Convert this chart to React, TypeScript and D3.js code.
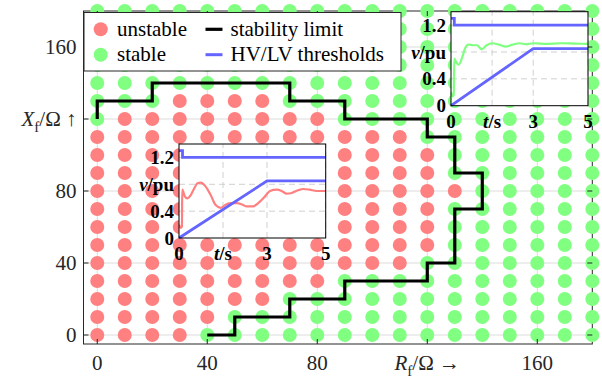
import React from 'react';
import * as d3 from 'd3';

// grid of operating points (fault resistance R_f, fault reactance X_f)
const rValues = [0, 10, 20, 30, 40, 50, 60, 70, 80, 90, 100, 110, 120, 130, 140, 150, 160, 170, 180];
const xValues = [0, 10, 20, 30, 40, 50, 60, 70, 80, 90, 100, 110, 120, 130, 140, 150, 160, 170, 180];
// unstable X_f range for each R_f column (null = all stable)
const unstableLow = [0, 0, 0, 0, 10, 20, 20, 30, 30, 40, 40, 40, 50, 80, null, null, null, null, null];
const unstableHigh = [110, 120, 120, 130, 130, 130, 130, 120, 120, 110, 110, 110, 100, 80, null, null, null, null, null];

// stability limit polyline
const limitR = [0, 0, 20, 20, 70, 70, 90, 90, 120, 120, 130, 130, 140, 140, 130, 130, 120, 120, 90, 90, 70, 70, 50, 50, 40];
const limitX = [120, 130, 130, 140, 140, 130, 130, 120, 120, 110, 110, 90, 90, 70, 70, 40, 40, 30, 30, 20, 20, 10, 10, 0, 0];

const mainTicks = [0, 40, 80, 120, 160];
const mainTickLabels = ['0', '40', '80', '', '160'];

// inset data
const hvT = [0, 0.12, 0.12, 5];
const hvV = [1.3, 1.3, 1.2, 1.2];
const lvT = [0, 3, 5];
const lvV = [0, 0.85, 0.85];
const unstableT = [0, 0.06, 0.1, 0.11, 0.2, 0.28, 0.4, 0.52, 0.63, 0.74, 0.91, 1.08, 1.25, 1.42, 1.6, 1.8, 1.97, 2.15, 2.31, 2.53, 2.7, 2.93, 3.1, 3.33, 3.5, 3.67, 3.84, 4.05, 4.24, 4.45, 4.69, 5];
const unstableV = [0.2, 0.15, 0.17, 0.72, 0.62, 0.59, 0.64, 0.74, 0.815, 0.825, 0.765, 0.64, 0.49, 0.45, 0.5, 0.52, 0.52, 0.5, 0.47, 0.47, 0.52, 0.62, 0.7, 0.72, 0.7, 0.66, 0.67, 0.71, 0.73, 0.72, 0.7, 0.7];
const stableT = [0, 0.06, 0.1, 0.12, 0.2, 0.28, 0.4, 0.52, 0.64, 0.8, 0.95, 1.12, 1.3, 1.5, 1.75, 2.0, 2.25, 2.5, 2.75, 3.0, 3.5, 4.0, 4.5, 5];
const stableV = [0.2, 0.14, 0.16, 0.7, 0.64, 0.61, 0.71, 0.86, 0.91, 0.9, 0.9, 0.84, 0.9, 0.93, 0.91, 0.88, 0.91, 0.93, 0.915, 0.93, 0.92, 0.93, 0.925, 0.92];
const insetXTicks = [0, 1.5, 3, 5];
const insetXLabels = ['0', 't/s', '3', '5'];
const insetYTicks = [0, 0.4, 0.8, 1.2];
const insetYLabels = ['0', '0.4', 'v/pu', '1.2'];

const RED = '#ff8080';
const GREEN = '#80ff80';
const BLUE = '#6464ff';
const AXIS = '#262626';
const FONT = 'Liberation Serif, DejaVu Serif, serif';

const x = d3.scaleLinear().domain([-5, 180]).range([83.5, 592.3]);
const y = d3.scaleLinear().domain([-5, 180]).range([344, 11]);

const lineMain = d3.line<number>().x((_, i) => x(limitR[i])).y(d => y(d));

function isUnstable(ci: number, xv: number) {
  const lo = unstableLow[ci];
  const hi = unstableHigh[ci];
  return lo !== null && hi !== null && xv >= lo && xv <= hi;
}

const Inset = ({ x0, x1, y0, y1, curveT, curveV, color }: any) => {
  const sx = d3.scaleLinear().domain([0, 5]).range([x0, x1]);
  const sy = d3.scaleLinear().domain([0, 1.4]).range([y0, y1]);
  const mk = (ts: number[], vs: number[], curve: any) =>
    d3.line<number>().x((_, i) => sx(ts[i])).y(d => sy(d)).curve(curve)(vs) || '';
  return (
    <g>
      <rect x={x0} y={y1} width={x1 - x0} height={y0 - y1} fill="#fff" />
      {insetXTicks.slice(1).map(t => (
        <line key={'gx' + t} x1={sx(t)} x2={sx(t)} y1={y0} y2={y1} stroke="#d0d0d0" strokeDasharray="6,4" />
      ))}
      {insetYTicks.slice(1).map(v => (
        <line key={'gy' + v} x1={x0} x2={x1} y1={sy(v)} y2={sy(v)} stroke="#d0d0d0" strokeDasharray="6,4" />
      ))}
      <path d={mk(curveT, curveV, d3.curveMonotoneX)} fill="none" stroke={color} strokeWidth={2.2} />
      <path d={mk(hvT, hvV, d3.curveLinear)} fill="none" stroke={BLUE} strokeWidth={2.8} />
      <path d={mk(lvT, lvV, d3.curveLinear)} fill="none" stroke={BLUE} strokeWidth={2.8} />
      <rect x={x0} y={y1} width={x1 - x0} height={y0 - y1} fill="none" stroke="#000" strokeWidth={1} />
      {insetXTicks.map((t, i) => (
        <text key={'lx' + t} x={sx(t)} y={y0 + 22} textAnchor="middle" style={{ fontFamily: FONT }} fontWeight="bold" fontSize={19} fill="#000">
          {insetXLabels[i] === 't/s' ? (<><tspan fontStyle="italic">t</tspan>/s</>) : insetXLabels[i]}
        </text>
      ))}
      {insetYTicks.map((v, i) => (
        <text key={'ly' + v} x={x0 - 5} y={sy(v)} dy="0.35em" textAnchor="end" style={{ fontFamily: FONT }} fontWeight="bold" fontSize={19} fill="#000">
          {insetYLabels[i] === 'v/pu' ? (<><tspan fontStyle="italic">v</tspan>/pu</>) : insetYLabels[i]}
        </text>
      ))}
    </g>
  );
};

export default function App() {
  const [xl, xr] = x.range();
  const [yb, yt] = y.range();
  return (
    <svg width={602} height={385} style={{ position: 'absolute', left: 0, top: 0, background: '#fff', fontFamily: FONT }}>
      {/* grid */}
      {mainTicks.map(t => (
        <g key={'g' + t}>
          <line x1={x(t)} x2={x(t)} y1={yb} y2={yt} stroke="#dcdcdc" />
          <line x1={xl} x2={xr} y1={y(t)} y2={y(t)} stroke="#dcdcdc" />
        </g>
      ))}
      <rect x={xl} y={yt} width={xr - xl} height={yb - yt} fill="none" stroke={AXIS} strokeWidth={1} />
      {/* operating points */}
      {rValues.map((r, ci) =>
        xValues.map(xv => (
          <circle key={r + '-' + xv} cx={x(r)} cy={y(xv)} r={7} fill={isUnstable(ci, xv) ? RED : GREEN} />
        ))
      )}
      {/* ticks */}
      {mainTicks.map(t => (
        <g key={'t' + t} stroke={AXIS}>
          <line x1={xl} x2={xl + 5} y1={y(t)} y2={y(t)} />
          <line x1={xr} x2={xr - 5} y1={y(t)} y2={y(t)} />
          <line x1={x(t)} x2={x(t)} y1={yb} y2={yb - 5} />
          <line x1={x(t)} x2={x(t)} y1={yt} y2={yt + 5} />
        </g>
      ))}
      <path d={lineMain(limitX) || ''} fill="none" stroke="#000" strokeWidth={3.2} />
      {/* tick labels */}
      {mainTicks.map((t, i) => (
        <text key={'xl' + t} x={x(t)} y={370} textAnchor="middle" fontSize={21} fill={AXIS}>
          {mainTickLabels[i]}
        </text>
      ))}
      {mainTicks.map((t, i) => (
        <text key={'yl' + t} x={xl - 7} y={y(t)} dy="0.35em" textAnchor="end" fontSize={21} fill={AXIS}>
          {mainTickLabels[i]}
        </text>
      ))}
      <text x={x(120)} y={370} textAnchor="middle" fontSize={21} fill={AXIS}>
        <tspan fontStyle="italic">R</tspan>
        <tspan fontSize={15} dy={6}>f</tspan>
        <tspan dy={-6}>/Ω →</tspan>
      </text>
      <text x={xl - 7} y={y(120)} dy="0.35em" textAnchor="end" fontSize={21} fill={AXIS}>
        <tspan fontStyle="italic">X</tspan>
        <tspan fontSize={15} dy={6}>f</tspan>
        <tspan dy={-6}>/Ω ↑</tspan>
      </text>
      {/* legend */}
      <g fontSize={21} fill="#000">
        <rect x={84} y={12.5} width={317} height={58.5} fill="#fff" stroke={AXIS} strokeWidth={1} />
        <circle cx={100.7} cy={29.3} r={7} fill={RED} />
        <text x={117} y={36}>unstable</text>
        <circle cx={100.7} cy={54.7} r={7} fill={GREEN} />
        <text x={117} y={61.3}>stable</text>
        <line x1={205.5} x2={222.5} y1={29.3} y2={29.3} stroke="#000" strokeWidth={3.2} />
        <text x={230.5} y={36}>stability limit</text>
        <line x1={205.5} x2={222.5} y1={54.7} y2={54.7} stroke={BLUE} strokeWidth={3} />
        <text x={230.5} y={61.3}>HV/LV thresholds</text>
      </g>
      {/* insets */}
      <Inset x0={179} x1={325.7} y0={238} y1={144} curveT={unstableT} curveV={unstableV} color={RED} />
      <Inset x0={451} x1={588} y0={105.7} y1={11.7} curveT={stableT} curveV={stableV} color={GREEN} />
    </svg>
  );
}
